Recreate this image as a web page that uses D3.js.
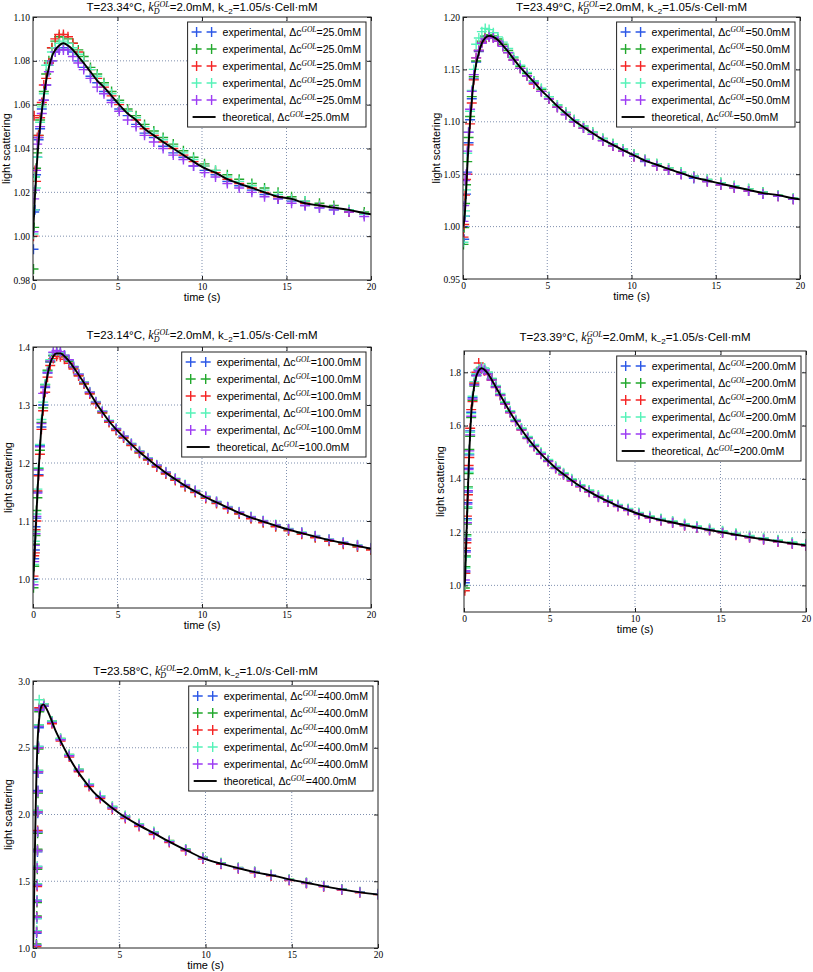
<!DOCTYPE html>
<html><head><meta charset="utf-8">
<script src="https://cdnjs.cloudflare.com/ajax/libs/d3/7.8.5/d3.min.js"></script>
<style>body{margin:0;background:#fff}svg{display:block}text{white-space:pre}</style>
</head><body>
<script>
// ---------------- DATA ----------------
const concLabels = ["25.0","50.0","100.0","200.0","400.0"];
const titleTemps = ["23.34","23.49","23.14","23.39","23.58"];
const titleK2 = ["1.05","1.05","1.05","1.05","1.0"];
const xTicks = [0,5,10,15,20];

// Panel 1 (25 mM)
const p1Time = [0.03,0.07,0.12,0.18,0.25,0.33,0.42,0.52,0.64,0.78,0.94,1.12,1.32,1.55,1.8,2.07,2.36,2.68,3.0,3.4,3.8,4.2,4.65,5.1,5.6,6.1,6.6,7.15,7.7,8.3,8.9,9.5,10.15,10.8,11.5,12.2,12.95,13.7,14.5,15.3,16.1,16.95,17.8,18.7,19.6];
const p1Blue = [0.994,1.011,1.012,1.028,1.036,1.044,1.049,1.058,1.062,1.069,1.079,1.080,1.084,1.085,1.086,1.085,1.084,1.080,1.077,1.073,1.070,1.066,1.062,1.058,1.055,1.051,1.047,1.045,1.041,1.038,1.036,1.032,1.030,1.028,1.025,1.023,1.021,1.019,1.017,1.016,1.014,1.013,1.012,1.011,1.010];
const p1Green = [0.985,1.004,1.027,1.031,1.038,1.046,1.053,1.060,1.066,1.074,1.080,1.086,1.089,1.091,1.091,1.090,1.088,1.085,1.082,1.077,1.074,1.070,1.066,1.062,1.058,1.055,1.051,1.048,1.045,1.042,1.039,1.036,1.033,1.030,1.028,1.026,1.024,1.022,1.020,1.018,1.016,1.015,1.014,1.012,1.011];
const p1Red = [1.000,1.055,1.030,1.025,1.045,1.046,1.054,1.061,1.069,1.072,1.079,1.086,1.090,1.092,1.092,1.091,1.088,1.084,1.080,1.076,1.072,1.068,1.064,1.060,1.057,1.053,1.049,1.046,1.043,1.040,1.037,1.034,1.032,1.029,1.026,1.024,1.022,1.020,1.018,1.017,1.015,1.014,1.013,1.011,1.010];
const p1Cyan = [1.001,1.012,1.027,1.022,1.036,1.045,1.052,1.059,1.065,1.078,1.078,1.084,1.086,1.088,1.089,1.088,1.086,1.083,1.080,1.076,1.073,1.069,1.065,1.061,1.057,1.054,1.050,1.047,1.044,1.041,1.038,1.035,1.032,1.030,1.027,1.025,1.023,1.021,1.019,1.017,1.016,1.014,1.013,1.012,1.010];
const p1Purple = [1.002,1.017,1.021,1.030,1.042,1.045,1.050,1.056,1.062,1.069,1.075,1.080,1.084,1.085,1.085,1.085,1.082,1.079,1.076,1.072,1.068,1.065,1.061,1.057,1.053,1.050,1.046,1.043,1.040,1.037,1.035,1.032,1.029,1.027,1.024,1.022,1.020,1.018,1.017,1.015,1.014,1.013,1.012,1.011,1.009];
const p1TheoryT = [0,0.03,0.07,0.12,0.18,0.25,0.33,0.42,0.52,0.64,0.78,0.94,1.12,1.32,1.55,1.8,2.07,2.36,2.68,3.0,3.4,3.8,4.2,4.65,5.1,5.6,6.1,6.6,7.15,7.7,8.3,8.9,9.5,10.15,10.8,11.5,12.2,12.95,13.7,14.5,15.3,16.1,16.95,17.8,18.7,19.6,20];
const p1TheoryV = [1.000,1.005,1.011,1.019,1.027,1.035,1.043,1.050,1.057,1.064,1.071,1.077,1.082,1.085,1.087,1.088,1.087,1.085,1.082,1.079,1.075,1.071,1.068,1.064,1.060,1.056,1.053,1.049,1.046,1.043,1.040,1.037,1.034,1.031,1.029,1.026,1.024,1.022,1.020,1.018,1.017,1.015,1.014,1.013,1.012,1.0105,1.010];
const p1YTicks = [0.98,1.00,1.02,1.04,1.06,1.08,1.10];

// Panel 2 (50 mM)
const p2Time = [0.03,0.07,0.12,0.18,0.25,0.33,0.42,0.52,0.64,0.78,0.94,1.12,1.32,1.55,1.8,2.07,2.36,2.68,3.0,3.4,3.8,4.2,4.65,5.1,5.6,6.1,6.6,7.15,7.7,8.3,8.9,9.5,10.15,10.8,11.5,12.2,12.95,13.7,14.5,15.3,16.1,16.95,17.8,18.7,19.6];
const p2Blue = [1.000,0.988,1.010,1.031,1.052,1.080,1.102,1.122,1.141,1.157,1.167,1.176,1.181,1.182,1.181,1.177,1.172,1.166,1.159,1.151,1.144,1.137,1.129,1.122,1.114,1.107,1.100,1.094,1.088,1.082,1.077,1.072,1.067,1.062,1.058,1.054,1.050,1.046,1.043,1.040,1.037,1.034,1.031,1.029,1.026];
const p2Green = [0.983,0.999,1.022,1.040,1.062,1.085,1.105,1.124,1.143,1.158,1.168,1.177,1.182,1.183,1.182,1.179,1.174,1.168,1.161,1.153,1.146,1.139,1.131,1.124,1.116,1.109,1.102,1.096,1.090,1.084,1.079,1.074,1.069,1.064,1.060,1.056,1.052,1.048,1.045,1.042,1.039,1.036,1.033,1.030,1.027];
const p2Red = [0.990,1.002,1.030,1.045,1.050,1.078,1.098,1.118,1.140,1.161,1.168,1.176,1.180,1.181,1.180,1.177,1.172,1.166,1.159,1.151,1.144,1.136,1.129,1.122,1.114,1.107,1.100,1.094,1.088,1.082,1.077,1.072,1.067,1.063,1.058,1.054,1.050,1.047,1.043,1.040,1.037,1.034,1.032,1.029,1.026];
const p2Cyan = [0.985,1.010,1.015,1.035,1.070,1.090,1.110,1.130,1.150,1.174,1.180,1.186,1.189,1.188,1.185,1.181,1.176,1.170,1.162,1.154,1.147,1.139,1.132,1.124,1.116,1.109,1.102,1.096,1.090,1.084,1.079,1.074,1.069,1.064,1.060,1.056,1.052,1.048,1.045,1.042,1.039,1.036,1.033,1.030,1.027];
const p2Purple = [1.005,1.020,1.044,1.050,1.072,1.090,1.112,1.129,1.145,1.161,1.168,1.175,1.179,1.181,1.180,1.177,1.172,1.166,1.159,1.151,1.144,1.137,1.129,1.122,1.114,1.107,1.100,1.094,1.088,1.082,1.077,1.072,1.067,1.063,1.058,1.054,1.050,1.047,1.043,1.040,1.037,1.034,1.031,1.029,1.026];
const p2TheoryT = [0,0.03,0.07,0.12,0.18,0.25,0.33,0.42,0.52,0.64,0.78,0.94,1.12,1.32,1.55,1.8,2.07,2.36,2.68,3.0,3.4,3.8,4.2,4.65,5.1,5.6,6.1,6.6,7.15,7.7,8.3,8.9,9.5,10.15,10.8,11.5,12.2,12.95,13.7,14.5,15.3,16.1,16.95,17.8,18.7,19.6,20];
const p2TheoryV = [1.000,1.002,1.006,1.015,1.032,1.055,1.078,1.100,1.120,1.140,1.155,1.166,1.175,1.180,1.182,1.181,1.178,1.173,1.167,1.160,1.152,1.145,1.138,1.130,1.123,1.115,1.108,1.101,1.095,1.089,1.083,1.078,1.073,1.068,1.063,1.059,1.055,1.051,1.047,1.044,1.041,1.038,1.035,1.032,1.030,1.027,1.026];
const p2YTicks = [0.95,1.00,1.05,1.10,1.15,1.20];

// Panel 3 (100 mM)
const p3Time = [0.03,0.07,0.11,0.15,0.2,0.26,0.33,0.41,0.5,0.6,0.72,0.86,1.02,1.2,1.4,1.62,1.86,2.12,2.4,2.7,3.02,3.36,3.72,4.1,4.5,4.92,5.36,5.82,6.3,6.8,7.32,7.86,8.42,9.0,9.6,10.22,10.86,11.52,12.2,12.9,13.62,14.36,15.12,15.9,16.7,17.52,18.36,19.2,20.0];
const p3Blue = [1.000,1.035,1.050,1.090,1.105,1.150,1.180,1.230,1.262,1.300,1.330,1.355,1.374,1.386,1.391,1.390,1.385,1.377,1.366,1.353,1.339,1.322,1.305,1.289,1.273,1.259,1.246,1.233,1.220,1.208,1.196,1.184,1.173,1.162,1.152,1.142,1.133,1.124,1.115,1.107,1.100,1.093,1.086,1.080,1.074,1.068,1.063,1.058,1.053];
const p3Green = [0.985,1.022,1.060,1.075,1.118,1.140,1.190,1.222,1.270,1.295,1.335,1.360,1.375,1.385,1.389,1.388,1.383,1.375,1.364,1.351,1.337,1.320,1.303,1.287,1.271,1.257,1.244,1.231,1.218,1.206,1.194,1.182,1.171,1.160,1.150,1.140,1.131,1.122,1.113,1.105,1.098,1.091,1.084,1.078,1.072,1.066,1.061,1.056,1.051];
const p3Red = [1.005,1.040,1.045,1.085,1.100,1.152,1.178,1.215,1.258,1.290,1.322,1.348,1.368,1.380,1.384,1.383,1.379,1.372,1.362,1.350,1.336,1.319,1.302,1.286,1.270,1.256,1.243,1.230,1.217,1.205,1.193,1.181,1.170,1.159,1.149,1.139,1.130,1.121,1.112,1.104,1.097,1.090,1.083,1.077,1.071,1.065,1.060,1.055,1.050];
const p3Cyan = [0.995,1.025,1.065,1.082,1.112,1.155,1.192,1.232,1.275,1.305,1.336,1.358,1.378,1.390,1.393,1.391,1.386,1.378,1.367,1.354,1.340,1.323,1.306,1.290,1.274,1.260,1.247,1.234,1.221,1.209,1.197,1.185,1.174,1.163,1.153,1.143,1.134,1.125,1.116,1.108,1.101,1.094,1.087,1.081,1.075,1.069,1.064,1.059,1.054];
const p3Purple = [0.990,1.030,1.058,1.078,1.108,1.148,1.188,1.228,1.268,1.320,1.332,1.356,1.376,1.391,1.394,1.392,1.386,1.378,1.366,1.353,1.339,1.322,1.305,1.289,1.273,1.259,1.246,1.233,1.220,1.208,1.196,1.184,1.173,1.162,1.152,1.142,1.133,1.124,1.115,1.107,1.100,1.093,1.086,1.080,1.074,1.068,1.063,1.058,1.053];
const p3TheoryT = [0,0.03,0.07,0.11,0.15,0.2,0.26,0.33,0.41,0.5,0.6,0.72,0.86,1.02,1.2,1.4,1.62,1.86,2.12,2.4,2.7,3.02,3.36,3.72,4.1,4.5,4.92,5.36,5.82,6.3,6.8,7.32,7.86,8.42,9.0,9.6,10.22,10.86,11.52,12.2,12.9,13.62,14.36,15.12,15.9,16.7,17.52,18.36,19.2,20.0];
const p3TheoryV = [1.000,1.010,1.030,1.055,1.080,1.110,1.145,1.185,1.225,1.265,1.298,1.328,1.352,1.372,1.384,1.389,1.389,1.384,1.376,1.365,1.352,1.338,1.321,1.304,1.288,1.272,1.258,1.245,1.232,1.219,1.207,1.195,1.183,1.172,1.161,1.151,1.141,1.132,1.123,1.114,1.106,1.099,1.092,1.085,1.079,1.073,1.067,1.062,1.057,1.052];
const p3YTicks = [1.0,1.1,1.2,1.3,1.4];

// Panel 4 (200 mM)
const p4Time = [0.05,0.08,0.11,0.14,0.17,0.2,0.23,0.27,0.31,0.36,0.42,0.5,0.6,0.72,0.86,1.02,1.2,1.4,1.62,1.86,2.12,2.4,2.7,3.02,3.36,3.72,4.1,4.5,4.92,5.36,5.82,6.3,6.8,7.32,7.86,8.42,9.0,9.6,10.22,10.86,11.52,12.2,12.9,13.62,14.36,15.12,15.9,16.7,17.52,18.36,19.2,20.0];
const p4Blue = [1.010,1.050,1.130,1.170,1.250,1.310,1.350,1.440,1.490,1.580,1.650,1.705,1.755,1.790,1.808,1.816,1.811,1.796,1.773,1.746,1.716,1.684,1.651,1.618,1.586,1.554,1.524,1.495,1.468,1.442,1.418,1.395,1.373,1.353,1.334,1.316,1.299,1.284,1.269,1.256,1.246,1.237,1.227,1.218,1.209,1.200,1.191,1.182,1.174,1.166,1.158,1.151];
const p4Green = [0.990,1.070,1.110,1.190,1.230,1.290,1.370,1.420,1.510,1.560,1.630,1.695,1.748,1.788,1.810,1.818,1.814,1.799,1.776,1.749,1.719,1.687,1.654,1.621,1.589,1.557,1.527,1.498,1.471,1.445,1.421,1.398,1.376,1.356,1.337,1.319,1.302,1.287,1.272,1.259,1.249,1.240,1.230,1.221,1.212,1.203,1.194,1.185,1.177,1.169,1.161,1.154];
const p4Red = [0.980,1.045,1.140,1.160,1.260,1.320,1.340,1.450,1.480,1.590,1.660,1.690,1.760,1.800,1.835,1.812,1.806,1.792,1.770,1.743,1.713,1.681,1.648,1.615,1.583,1.551,1.521,1.492,1.465,1.439,1.415,1.392,1.370,1.350,1.331,1.313,1.296,1.281,1.266,1.253,1.243,1.234,1.224,1.215,1.206,1.197,1.188,1.179,1.171,1.163,1.155,1.148];
const p4Cyan = [1.000,1.065,1.105,1.185,1.245,1.295,1.365,1.425,1.495,1.575,1.645,1.710,1.765,1.795,1.812,1.820,1.815,1.800,1.778,1.751,1.721,1.689,1.656,1.623,1.591,1.559,1.529,1.500,1.473,1.447,1.423,1.400,1.378,1.358,1.339,1.321,1.304,1.289,1.274,1.261,1.251,1.242,1.232,1.223,1.214,1.205,1.196,1.187,1.179,1.171,1.163,1.156];
const p4Purple = [1.020,1.055,1.125,1.175,1.235,1.305,1.355,1.435,1.505,1.565,1.635,1.700,1.752,1.787,1.805,1.813,1.808,1.794,1.771,1.744,1.714,1.682,1.649,1.616,1.584,1.552,1.522,1.493,1.466,1.440,1.416,1.393,1.371,1.351,1.332,1.314,1.297,1.282,1.267,1.254,1.244,1.235,1.225,1.216,1.207,1.198,1.189,1.180,1.172,1.164,1.156,1.149];
const p4TheoryT = [0,0.05,0.08,0.11,0.14,0.17,0.2,0.23,0.27,0.31,0.36,0.42,0.5,0.6,0.72,0.86,1.02,1.2,1.4,1.62,1.86,2.12,2.4,2.7,3.02,3.36,3.72,4.1,4.5,4.92,5.36,5.82,6.3,6.8,7.32,7.86,8.42,9.0,9.6,10.22,10.86,11.52,12.2,12.9,13.62,14.36,15.12,15.9,16.7,17.52,18.36,19.2,20.0];
const p4TheoryV = [1.000,1.010,1.060,1.120,1.180,1.240,1.300,1.360,1.430,1.500,1.570,1.640,1.700,1.750,1.785,1.806,1.815,1.810,1.795,1.772,1.745,1.715,1.683,1.650,1.617,1.585,1.553,1.523,1.494,1.467,1.441,1.417,1.394,1.372,1.352,1.333,1.315,1.298,1.283,1.268,1.255,1.245,1.236,1.226,1.217,1.208,1.199,1.190,1.181,1.173,1.165,1.157,1.150];
const p4YTicks = [1.0,1.2,1.4,1.6,1.8];

// Panel 5 (400 mM)
const p5Time = [0.2,0.21,0.22,0.23,0.24,0.25,0.26,0.27,0.28,0.29,0.3,0.32,0.34,0.36,0.62,1.1,1.6,2.1,2.65,3.25,3.9,4.6,5.35,6.15,7.0,7.9,8.85,9.85,10.9,11.9,12.85,13.8,14.85,15.85,16.85,17.9,18.95,20.0];
const p5Blue = [1.02,1.11,1.22,1.36,1.47,1.61,1.72,1.87,2.01,2.18,2.31,2.51,2.65,2.79,2.82,2.69,2.56,2.44,2.33,2.22,2.13,2.05,1.98,1.92,1.86,1.797,1.735,1.673,1.632,1.598,1.568,1.545,1.510,1.487,1.462,1.438,1.418,1.403];
const p5Green = [1.03,1.13,1.24,1.34,1.48,1.59,1.74,1.86,2.03,2.16,2.33,2.49,2.67,2.77,2.81,2.70,2.57,2.45,2.34,2.23,2.14,2.06,1.99,1.93,1.87,1.805,1.742,1.680,1.638,1.603,1.573,1.550,1.515,1.491,1.466,1.442,1.421,1.406];
const p5Red = [1.01,1.12,1.23,1.35,1.46,1.60,1.73,1.88,2.02,2.17,2.32,2.50,2.66,2.80,2.83,2.68,2.55,2.43,2.32,2.21,2.12,2.04,1.97,1.91,1.85,1.790,1.728,1.667,1.627,1.593,1.563,1.540,1.505,1.483,1.458,1.434,1.414,1.400];
const p5Cyan = [1.02,1.13,1.22,1.36,1.48,1.61,1.73,1.87,2.03,2.17,2.33,2.51,2.67,2.86,2.83,2.70,2.57,2.45,2.34,2.23,2.14,2.06,1.99,1.93,1.87,1.803,1.740,1.678,1.636,1.601,1.571,1.548,1.513,1.489,1.464,1.440,1.420,1.405];
const p5Purple = [1.02,1.12,1.23,1.35,1.47,1.60,1.73,1.87,2.02,2.17,2.32,2.50,2.66,2.78,2.81,2.69,2.56,2.44,2.33,2.22,2.13,2.05,1.98,1.92,1.86,1.797,1.735,1.673,1.632,1.598,1.568,1.545,1.510,1.487,1.462,1.438,1.418,1.403];
const p5TheoryT = [0,0.03,0.06,0.1,0.15,0.2,0.25,0.3,0.4,0.5,0.6,0.75,1.0,1.3,1.6,2.0,2.5,3.0,3.5,4.0,5,6,7,8,9,10,11,12,13,14,15,16,17,18,19,20];
const p5TheoryV = [1.0,1.15,1.35,1.65,2.0,2.3,2.5,2.63,2.76,2.815,2.825,2.80,2.73,2.63,2.55,2.45,2.34,2.25,2.17,2.11,2.01,1.93,1.86,1.79,1.725,1.665,1.628,1.595,1.565,1.54,1.51,1.485,1.46,1.437,1.417,1.40];
const p5YTicks = [1.0,1.5,2.0,2.5,3.0];

// ---------------- STYLE / LAYOUT ----------------
const COLORS = ["#2b57e6","#22a82d","#f52424","#55f2b8","#9d3df3"];
const SANS = "'Liberation Sans', Arial, sans-serif";
const SERIF = "'Liberation Serif', 'Times New Roman', serif";

const panels = [
  {box:{l:33,r:371,t:17,b:280}, yDom:[0.98,1.10], yTicks:p1YTicks, fmt:".2f", time:p1Time,
   series:[p1Blue,p1Green,p1Red,p1Cyan,p1Purple], thT:p1TheoryT, thV:p1TheoryV, titleY:11, ylabOff:27},
  {box:{l:463,r:800,t:17,b:279}, yDom:[0.95,1.20], yTicks:p2YTicks, fmt:".2f", time:p2Time,
   series:[p2Blue,p2Green,p2Red,p2Cyan,p2Purple], thT:p2TheoryT, thV:p2TheoryV, titleY:11, ylabOff:27},
  {box:{l:33,r:371,t:347,b:608}, yDom:[0.95,1.40], yTicks:p3YTicks, fmt:".1f", time:p3Time,
   series:[p3Blue,p3Green,p3Red,p3Cyan,p3Purple], thT:p3TheoryT, thV:p3TheoryV, titleY:339, ylabOff:25},
  {box:{l:464,r:806,t:351,b:612}, yDom:[0.90,1.88], yTicks:p4YTicks, fmt:".1f", time:p4Time,
   series:[p4Blue,p4Green,p4Red,p4Cyan,p4Purple], thT:p4TheoryT, thV:p4TheoryV, titleY:341, ylabOff:24},
  {box:{l:33,r:378,t:681,b:948}, yDom:[1.0,3.0], yTicks:p5YTicks, fmt:".1f", time:p5Time,
   series:[p5Blue,p5Green,p5Red,p5Cyan,p5Purple], thT:p5TheoryT, thV:p5TheoryV, titleY:675, ylabOff:25}
];

const svg = d3.select("body").append("svg").attr("width",813).attr("height",972);
const defs = svg.append("defs");

function richText(parent, segs, x, y, anchor) {
  const g = parent.append("g");
  let cursor = 0, prevStart = 0;
  segs.forEach(s => {
    const t = g.append("text").text(s.t)
      .attr("xml:space", "preserve")
      .attr("font-family", s.serif ? SERIF : SANS)
      .attr("font-size", s.size)
      .attr("font-style", s.italic ? "italic" : "normal")
      .attr("fill", "#000")
      .attr("y", s.dy || 0);
    const w = t.node().getComputedTextLength();
    if (s.stack) { t.attr("x", prevStart); cursor = Math.max(cursor, prevStart + w); }
    else { t.attr("x", cursor); prevStart = cursor; cursor += w; }
  });
  const off = anchor === "middle" ? -cursor / 2 : (anchor === "end" ? -cursor : 0);
  g.attr("transform", `translate(${x + off},${y})`);
  return cursor;
}

const crossPath = "M-5,0H5M0,-5V5";

panels.forEach((p, pi) => {
  const {l, r, t, b} = p.box;
  const x = d3.scaleLinear().domain([0, 20]).range([l, r]);
  const y = d3.scaleLinear().domain(p.yDom).range([b, t]);
  const g = svg.append("g");
  const clipId = "clip" + pi;
  defs.append("clipPath").attr("id", clipId).append("rect")
    .attr("x", l).attr("y", t).attr("width", r - l).attr("height", b - t);

  // grid
  const grid = g.append("g").attr("stroke", "#7f8fae").attr("stroke-width", 1).attr("stroke-dasharray", "1,2");
  xTicks.forEach(v => { if (v > 0 && v < 20) grid.append("line").attr("x1", x(v)).attr("x2", x(v)).attr("y1", t).attr("y2", b); });
  p.yTicks.forEach(v => { if (Math.abs(y(v) - b) > 0.5 && Math.abs(y(v) - t) > 0.5) grid.append("line").attr("x1", l).attr("x2", r).attr("y1", y(v)).attr("y2", y(v)); });

  // data
  const dataG = g.append("g").attr("clip-path", `url(#${clipId})`);
  p.series.forEach((vals, si) => {
    dataG.append("g").selectAll("path").data(vals).join("path")
      .attr("d", crossPath)
      .attr("transform", (d, i) => `translate(${x(p.time[i])},${y(d)})`)
      .attr("stroke", COLORS[si]).attr("stroke-width", 1.4).attr("fill", "none");
  });
  const line = d3.line().x((d, i) => x(p.thT[i])).y(d => y(d)).curve(d3.curveMonotoneX);
  dataG.append("path").datum(p.thV).attr("d", line)
    .attr("fill", "none").attr("stroke", "#000").attr("stroke-width", 1.9);

  // axes
  const styleAxis = sel => {
    sel.select(".domain").remove();
    sel.selectAll(".tick line").attr("stroke", "#222");
    sel.selectAll("text").attr("font-family", SERIF).attr("font-size", 9.5).attr("fill", "#000");
  };
  g.append("g").attr("transform", `translate(0,${b})`)
    .call(d3.axisBottom(x).tickValues(xTicks).tickSize(-4).tickPadding(3).tickFormat(d3.format("d"))).call(styleAxis);
  g.append("g").attr("transform", `translate(0,${t})`)
    .call(d3.axisTop(x).tickValues(xTicks).tickSize(-4).tickFormat("")).call(styleAxis);
  g.append("g").attr("transform", `translate(${l},0)`)
    .call(d3.axisLeft(y).tickValues(p.yTicks).tickSize(-4).tickPadding(3).tickFormat(d3.format(p.fmt))).call(styleAxis);
  g.append("g").attr("transform", `translate(${r},0)`)
    .call(d3.axisRight(y).tickValues(p.yTicks).tickSize(-4).tickFormat("")).call(styleAxis);

  // frame
  g.append("rect").attr("x", l).attr("y", t).attr("width", r - l).attr("height", b - t)
    .attr("fill", "none").attr("stroke", "#222").attr("stroke-width", 1);

  // axis labels
  g.append("text").attr("x", (l + r) / 2).attr("y", b + 21).attr("text-anchor", "middle")
    .attr("font-family", SANS).attr("font-size", 11).text("time (s)");
  g.append("text").attr("transform", `translate(${l - p.ylabOff},${(t + b) / 2}) rotate(-90)`)
    .attr("text-anchor", "middle").attr("dy", "0.35em")
    .attr("font-family", SANS).attr("font-size", 11).text("light scattering");

  // title
  richText(g, [
    {t: `T=${titleTemps[pi]}°C, `, size: 11.5},
    {t: "k", size: 12, serif: true, italic: true},
    {t: "GOL", size: 8, serif: true, italic: true, dy: -4.5},
    {t: "D", size: 8, serif: true, italic: true, dy: 3, stack: true},
    {t: "=2.0mM, k", size: 11.5},
    {t: "−2", size: 8, dy: 3},
    {t: `=${titleK2[pi]}/s·Cell·mM`, size: 11.5}
  ], (l + r) / 2, p.titleY, "middle");

  // legend
  const lg = g.append("g");
  const frame = lg.append("rect");
  const rowsG = lg.append("g");
  const labels = ["experimental","experimental","experimental","experimental","experimental","theoretical"];
  let maxW = 0;
  labels.forEach((lab, i) => {
    const row = rowsG.append("g").attr("transform", `translate(0,${10 + 17 * i})`);
    if (i < 5) {
      [9, 24].forEach(mx => row.append("path").attr("d", crossPath).attr("transform", `translate(${mx},0)`)
        .attr("stroke", COLORS[i]).attr("stroke-width", 1.4).attr("fill", "none"));
    } else {
      row.append("line").attr("x1", 5).attr("x2", 28).attr("y1", 0).attr("y2", 0)
        .attr("stroke", "#000").attr("stroke-width", 1.9);
    }
    const w = richText(row, [
      {t: `${lab}, Δc`, size: 10.6},
      {t: "GOL", size: 7.5, serif: true, italic: true, dy: -4.5},
      {t: `=${concLabels[pi]}mM`, size: 10.6}
    ], 35, 4, "start");
    maxW = Math.max(maxW, w);
  });
  const bw = 35 + maxW + 5, bh = 105;
  frame.attr("x", 0).attr("y", 0).attr("width", bw).attr("height", bh)
    .attr("fill", "#fff").attr("stroke", "#222").attr("stroke-width", 1);
  lg.attr("transform", `translate(${r - 5 - bw},${t + 5})`);
});
</script>
</body></html>
